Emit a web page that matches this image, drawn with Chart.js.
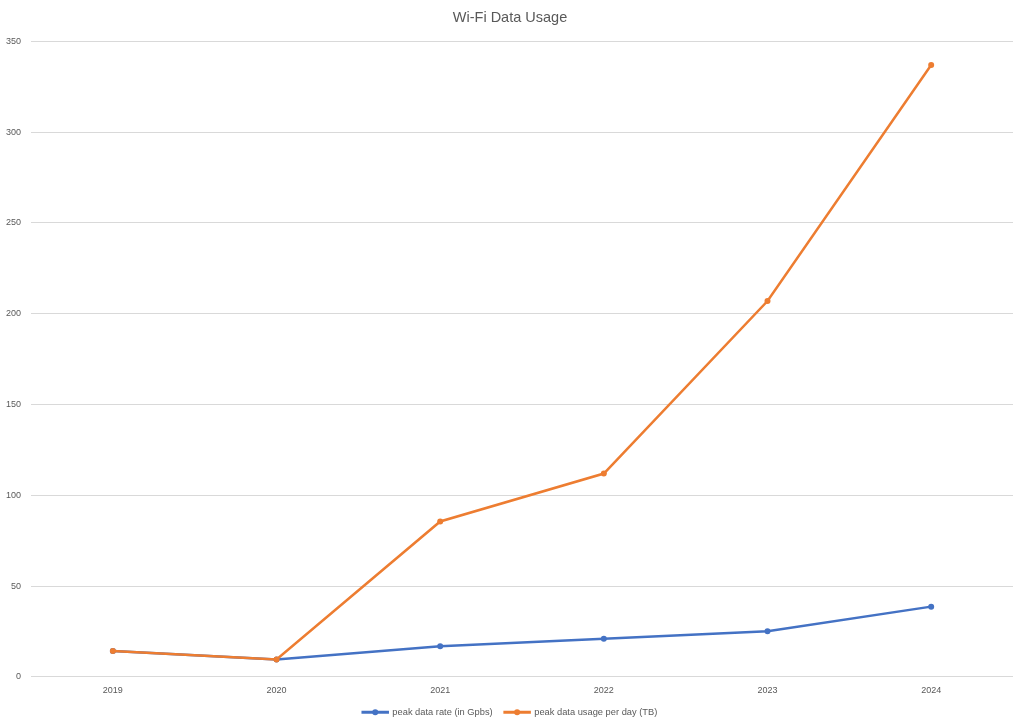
<!DOCTYPE html>
<html>
<head>
<meta charset="utf-8">
<script src="https://cdn.jsdelivr.net/npm/chart.js@4.4.0/dist/chart.umd.min.js"></script>
<style>
    html, body { margin: 0; padding: 0; background: #fff; }
    #wrap { width: 1024px; height: 724px; position: relative; }
</style>
</head>
<body>
<div id="wrap"><canvas id="wifiChart"></canvas></div>
<script>
// Datos
const years = ['2019', '2020', '2021', '2022', '2023', '2024'];
const peakRate = [14.2, 9.6, 16.9, 21, 25.2, 38.7];
const peakUsage = [14.2, 9.6, 85.6, 112, 207, 337];
const yTicks = [0, 50, 100, 150, 200, 250, 300, 350];

const BLUE = '#4472C4';
const ORANGE = '#ED7D31';
const GREY = '#595959';

// Punto en medio de la línea de la leyenda, como en Excel
const legendDots = {
    id: 'legendDots',
    afterDraw(chart) {
        const legend = chart.legend;
        if (!legend || !legend.legendHitBoxes) return;
        const c = chart.ctx;
        const boxW = legend.options.labels.boxWidth;
        legend.legendHitBoxes.forEach((hb, i) => {
            const item = legend.legendItems[i];
            c.save();
            c.fillStyle = item.strokeStyle;
            c.beginPath();
            c.arc(hb.left + boxW / 2, hb.top + hb.height / 2, 3, 0, Math.PI * 2);
            c.fill();
            c.restore();
        });
    }
};

const ctx = document.getElementById('wifiChart').getContext('2d');
new Chart(ctx, {
    type: 'line',
    data: {
        labels: years,
        datasets: [{
            label: 'peak data rate (in Gpbs)',
            data: peakRate,
            borderColor: BLUE,
            backgroundColor: BLUE,
            borderWidth: 2.5,
            pointRadius: 3,
            pointBorderWidth: 0,
            tension: 0,
            order: 2
        }, {
            label: 'peak data usage per day (TB)',
            data: peakUsage,
            borderColor: ORANGE,
            backgroundColor: ORANGE,
            borderWidth: 2.5,
            pointRadius: 3,
            pointBorderWidth: 0,
            tension: 0,
            order: 1
        }]
    },
    plugins: [legendDots],
    options: {
        responsive: true,
        maintainAspectRatio: false,
        animation: false,
        layout: {
            padding: { left: -4, right: 0, top: 9, bottom: -3 }
        },
        plugins: {
            title: {
                display: true,
                text: 'Wi-Fi Data Usage',
                color: GREY,
                font: { family: 'Liberation Sans', size: 14.5, weight: 'normal' },
                padding: { top: 0, bottom: 15 }
            },
            legend: {
                position: 'bottom',
                labels: {
                    color: GREY,
                    font: { family: 'Liberation Sans', size: 9.3 },
                    boxWidth: 25,
                    boxHeight: 0.5,
                    padding: 12,
                    sort: (a, b) => a.datasetIndex - b.datasetIndex
                }
            },
            tooltip: { enabled: false }
        },
        scales: {
            x: {
                offset: true,
                grid: { display: false },
                border: { display: false },
                ticks: {
                    color: GREY,
                    font: { family: 'Liberation Sans', size: 9 },
                    padding: 0
                }
            },
            y: {
                min: 0,
                max: 350,
                afterBuildTicks: (axis) => {
                    axis.ticks = yTicks.map(v => ({ value: v }));
                },
                grid: { color: '#D9D9D9', drawTicks: false },
                border: { display: false },
                ticks: {
                    color: GREY,
                    font: { family: 'Liberation Sans', size: 9 },
                    padding: 10
                }
            },
            // margen derecho vacío, así el título queda centrado en el lienzo
            yRight: {
                position: 'right',
                grid: { display: false },
                border: { display: false },
                ticks: { display: false },
                afterFit: (axis) => { axis.width = 11; }
            }
        }
    }
});
</script>
</body>
</html>
